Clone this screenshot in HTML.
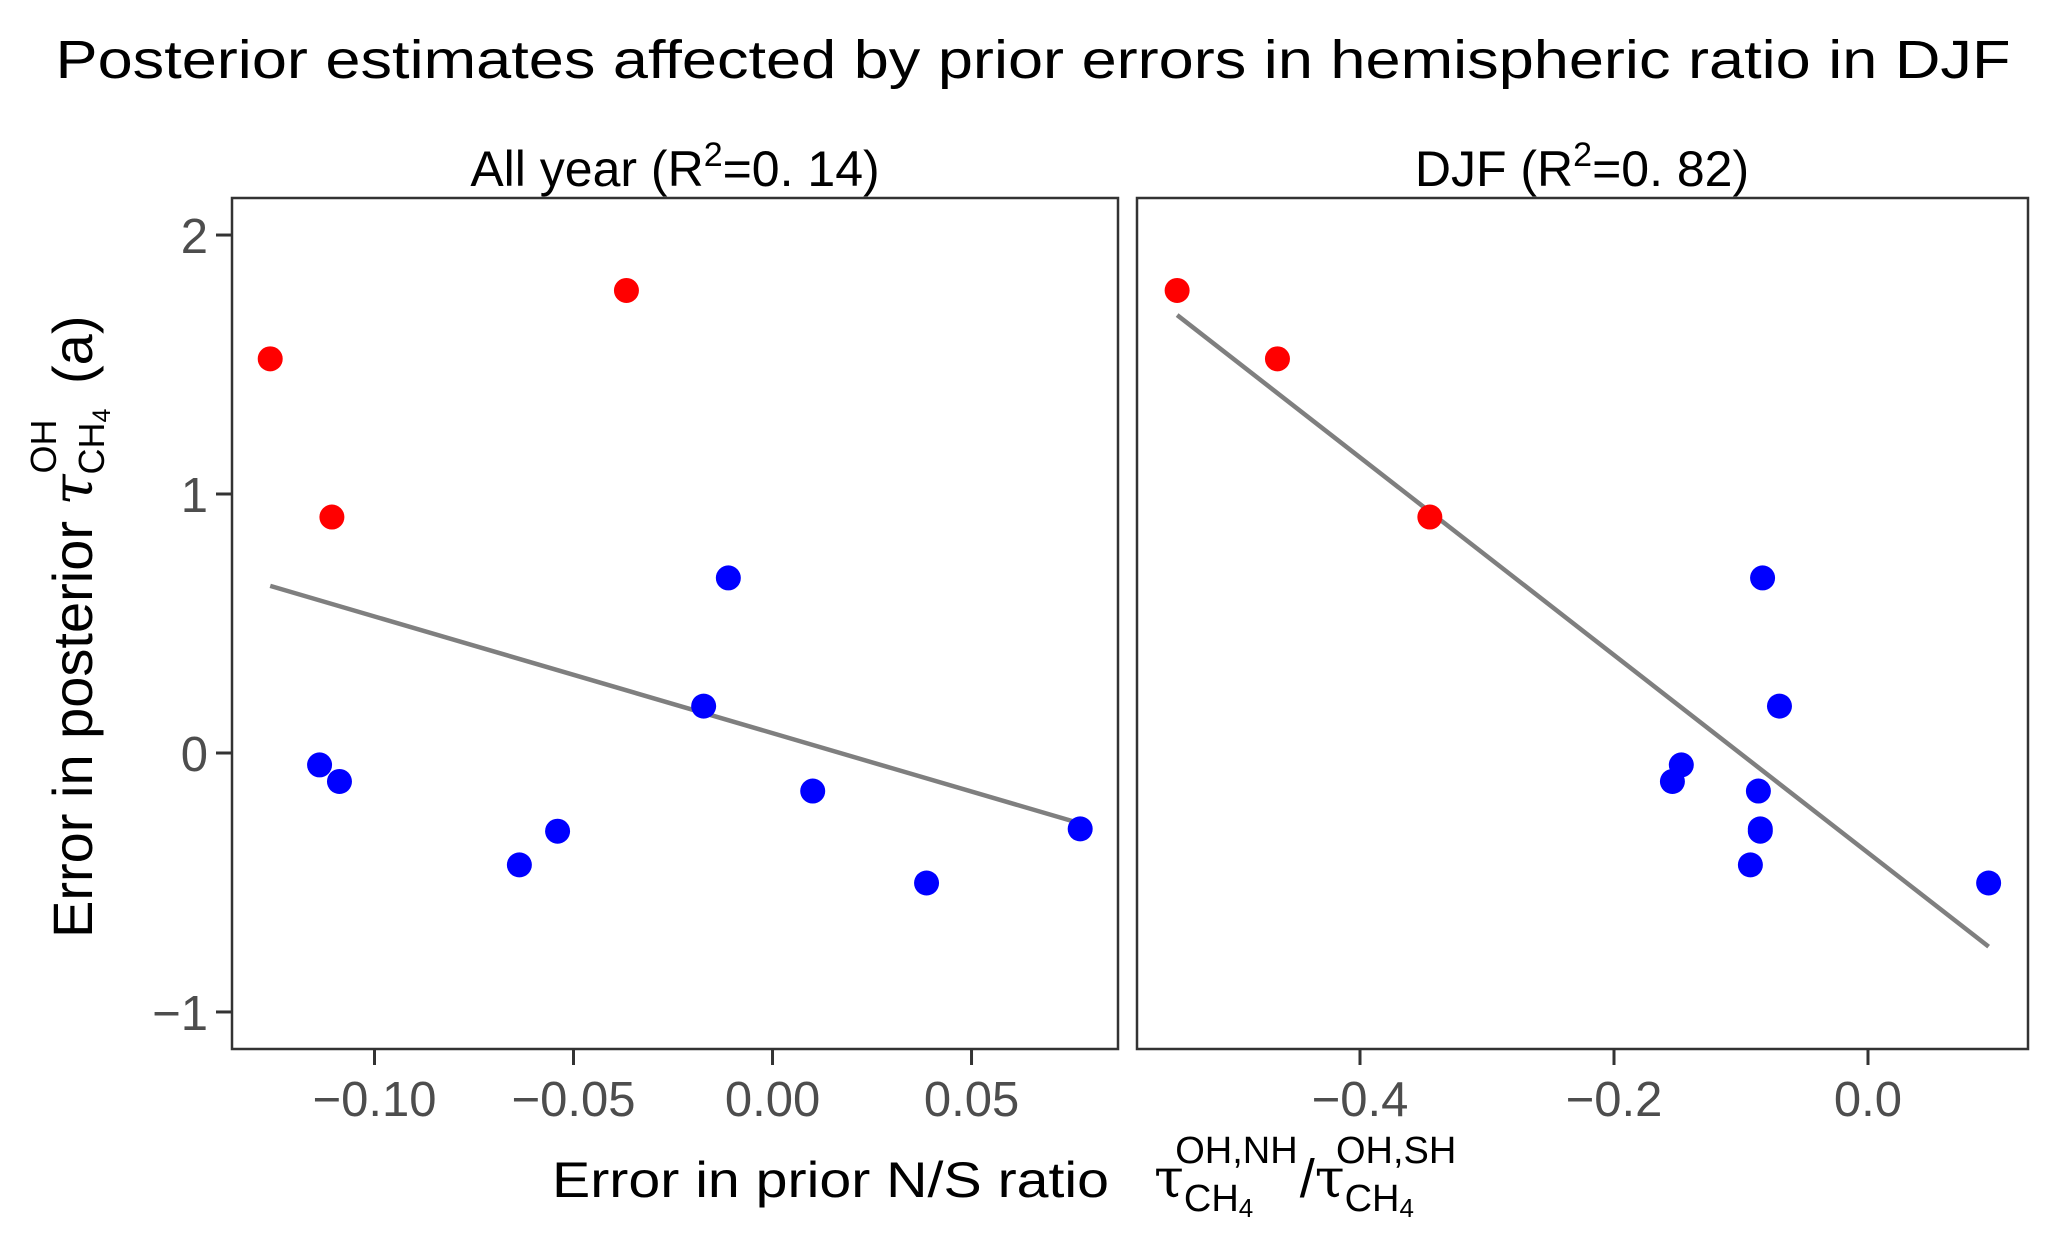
<!DOCTYPE html>
<html><head><meta charset="utf-8"><style>
html,body{margin:0;padding:0;background:#fff}
svg{display:block;font-family:"Liberation Sans",Arial,sans-serif}
</style></head><body>
<svg id="chart" width="2067" height="1234" viewBox="0 0 2067 1234" xmlns="http://www.w3.org/2000/svg">
<text x="1033" y="78" font-size="54" text-anchor="middle" textLength="1955" lengthAdjust="spacingAndGlyphs">Posterior estimates affected by prior errors in hemispheric ratio in DJF</text>
<text x="675" y="186" font-size="50" text-anchor="middle">All year (R<tspan dy="-20" font-size="34">2</tspan><tspan dy="20">=0. 14)</tspan></text>
<text x="1582" y="186" font-size="50" text-anchor="middle">DJF (R<tspan dy="-20" font-size="34">2</tspan><tspan dy="20">=0. 82)</tspan></text>
<g id="left"></g>
<g id="right"></g>
<text transform="translate(92,938) rotate(-90)" font-size="56">Error in posterior <tspan font-family="'DejaVu Serif',serif" font-style="italic">τ</tspan><tspan font-size="36" dy="12">CH</tspan><tspan font-size="25" dy="6">4</tspan><tspan font-size="36" dx="-65" dy="-54">OH</tspan><tspan dx="20" dy="36"> (a)</tspan></text>
<text x="552" y="1197" font-size="50" textLength="557" lengthAdjust="spacingAndGlyphs">Error in prior N/S ratio</text>
<text x="1154" y="1197" font-size="54"><tspan font-family="'DejaVu Serif',serif">τ</tspan><tspan font-size="38" dy="14">CH</tspan><tspan font-size="26" dy="6">4</tspan><tspan font-size="38" dx="-78" dy="-54">OH,NH</tspan><tspan dy="34" dx="2">/</tspan><tspan font-family="'DejaVu Serif',serif">τ</tspan><tspan font-size="38" dy="14">CH</tspan><tspan font-size="26" dy="6">4</tspan><tspan font-size="38" dx="-78" dy="-54">OH,SH</tspan></text>
</svg>
<script>
const yValues = [1.786, 1.522, 0.911, 0.676, 0.181, -0.046, -0.110, -0.147, -0.302, -0.432, -0.502, -0.293];
const groups  = ['red','red','red','blue','blue','blue','blue','blue','blue','blue','blue','blue'];
const xAllYear = [-0.0367, -0.1262, -0.1107, -0.0111, -0.0173, -0.1138, -0.1088, 0.0101, -0.0540, -0.0636, 0.0387, 0.0773];
const xDJF     = [-0.544, -0.465, -0.345, -0.083, -0.0697, -0.147, -0.154, -0.0863, -0.0848, -0.0926, 0.095, -0.0848];
const yTicks = [2, 1, 0, -1];
const yTickLabels = ['2', '1', '0', '\u22121'];
const xTicksLeft = [-0.10, -0.05, 0.00, 0.05];
const xTickLabelsLeft = ['\u22120.10', '\u22120.05', '0.00', '0.05'];
const xTicksRight = [-0.4, -0.2, 0.0];
const xTickLabelsRight = ['\u22120.4', '\u22120.2', '0.0'];

(function(){
const NS = 'http://www.w3.org/2000/svg';
const plotTop = 198, plotBottom = 1049;
const yDomain = [-1.143, 2.143];
function yScale(v){ return plotBottom - (v - yDomain[0]) / (yDomain[1] - yDomain[0]) * (plotBottom - plotTop); }
function mk(tag, attrs, parent){ const e = document.createElementNS(NS, tag); for (const k in attrs) e.setAttribute(k, attrs[k]); parent.appendChild(e); return e; }

function panel(g, left, right, xDomain, xs, xt, xtl, showY, key){
  const xScale = v => left + (v - xDomain[0]) / (xDomain[1] - xDomain[0]) * (right - left);
  const n = xs.length; let mx = 0, my = 0;
  for (let i = 0; i < n; i++){ mx += xs[i]; my += yValues[i]; } mx /= n; my /= n;
  let sxy = 0, sxx = 0;
  for (let i = 0; i < n; i++){ sxy += (xs[i]-mx)*(yValues[i]-my); sxx += (xs[i]-mx)*(xs[i]-mx); }
  const b = sxy / sxx, a = my - b*mx;
  const x0 = Math.min(...xs), x1 = Math.max(...xs);
  const ln = mk('line', {x1: xScale(x0), y1: yScale(a+b*x0), x2: xScale(x1), y2: yScale(a+b*x1), stroke: '#7f7f7f', 'stroke-width': 4.5}, g);
  
  
  for (let i = 0; i < n; i++){
    const c = mk('circle', {cx: xScale(xs[i]), cy: yScale(yValues[i]), r: 12.5, fill: groups[i] === 'red' ? '#ff0000' : '#0000ff'}, g);
    
    
  }
  const fr = mk('rect', {x: left, y: plotTop, width: right-left, height: plotBottom-plotTop, fill: 'none', stroke: '#333', 'stroke-width': 2.5}, g);
  
  
  xt.forEach((v, i) => {
    const x = xScale(v);
    const t = mk('line', {x1: x, y1: plotBottom, x2: x, y2: plotBottom+16, stroke: '#333', 'stroke-width': 3}, g);
    
    
    const l = mk('text', {x: x, y: 1116, 'font-size': 49, fill: '#4d4d4d', 'text-anchor': 'middle'}, g);
    l.textContent = xtl[i];
    
    
  });
  if (showY){
    yTicks.forEach((v, i) => {
      const y = yScale(v);
      const t = mk('line', {x1: left-16, y1: y, x2: left, y2: y, stroke: '#333', 'stroke-width': 3}, g);
      
      
      const l = mk('text', {x: left-24, y: y+18, 'font-size': 49, fill: '#4d4d4d', 'text-anchor': 'end'}, g);
      l.textContent = yTickLabels[i];
      
      
    });
  }
}
panel(document.getElementById('left'), 232, 1118, [-0.1358, 0.0868], xAllYear, xTicksLeft, xTickLabelsLeft, true, 'all-year');
panel(document.getElementById('right'), 1137, 2028, [-0.5756, 0.126], xDJF, xTicksRight, xTickLabelsRight, false, 'djf');
})();
</script>
</body></html>
